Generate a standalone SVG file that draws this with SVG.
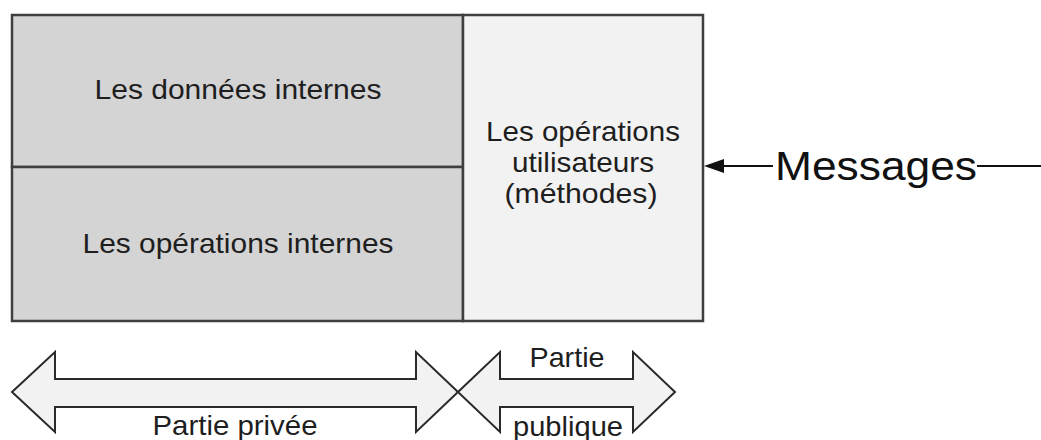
<svg xmlns="http://www.w3.org/2000/svg" width="1041" height="440" viewBox="0 0 1041 440">
  <style>
    .box { stroke: #3f3f3f; stroke-width: 2.5; }
    .priv { fill: #d4d4d4; }
    .pub { fill: #f2f2f2; }
    .lbl { font-family: "Liberation Sans", Arial, sans-serif; font-size: 28px; fill: #1e1e1e; text-anchor: middle; }
    .msg { font-family: "Liberation Sans", Arial, sans-serif; font-size: 40px; fill: #111; }
    .big { fill: #f2f2f2; stroke: #2a2a2a; stroke-width: 2; stroke-linejoin: miter; }
    .conn { stroke: #111; stroke-width: 2; fill: none; }
  </style>
  <defs>
    <marker id="ah" viewBox="0 0 20 14" refX="0" refY="7" markerWidth="20" markerHeight="14" markerUnits="userSpaceOnUse" orient="auto">
      <path d="M0,0 L20,7 L0,14 Z" fill="#111"/>
    </marker>
  </defs>
  <rect width="1041" height="440" fill="#ffffff"/>

  <g id="donnees-internes">
    <rect class="box priv" x="12" y="15" width="451" height="152"/>
    <text class="lbl" x="238" y="99" textLength="287" lengthAdjust="spacingAndGlyphs">Les données internes</text>
  </g>
  <g id="operations-internes">
    <rect class="box priv" x="12" y="167" width="451" height="154"/>
    <text class="lbl" x="238" y="253" textLength="311" lengthAdjust="spacingAndGlyphs">Les opérations internes</text>
  </g>
  <g id="operations-utilisateurs">
    <rect class="box pub" x="463" y="15" width="240" height="306"/>
    <text class="lbl" x="583" y="141" textLength="194" lengthAdjust="spacingAndGlyphs">Les opérations</text>
    <text class="lbl" x="583" y="172" textLength="142" lengthAdjust="spacingAndGlyphs">utilisateurs</text>
    <text class="lbl" x="581" y="203" textLength="153" lengthAdjust="spacingAndGlyphs">(méthodes)</text>
  </g>

  <g id="connectors">
    <line class="conn" x1="773" y1="166" x2="724" y2="166" marker-end="url(#ah)"/>
    <line class="conn" x1="977" y1="166" x2="1041" y2="166"/>
  </g>
  <g id="messages">
    <text class="msg" x="775" y="180" textLength="202" lengthAdjust="spacingAndGlyphs">Messages</text>
  </g>

  <g id="partie-privee">
    <polygon class="big" points="12,392 55,352 55,379 416,379 416,352 458,392 416,432 416,407 55,407 55,432"/>
    <text class="lbl" x="235" y="435" textLength="165" lengthAdjust="spacingAndGlyphs">Partie privée</text>
  </g>
  <g id="partie-publique">
    <polygon class="big" points="458,392 500,352 500,379 633,379 633,352 675,392 633,432 633,407 500,407 500,432"/>
    <text class="lbl" x="567" y="367" textLength="75" lengthAdjust="spacingAndGlyphs">Partie</text>
    <text class="lbl" x="568" y="436" textLength="110" lengthAdjust="spacingAndGlyphs">publique</text>
  </g>
</svg>
